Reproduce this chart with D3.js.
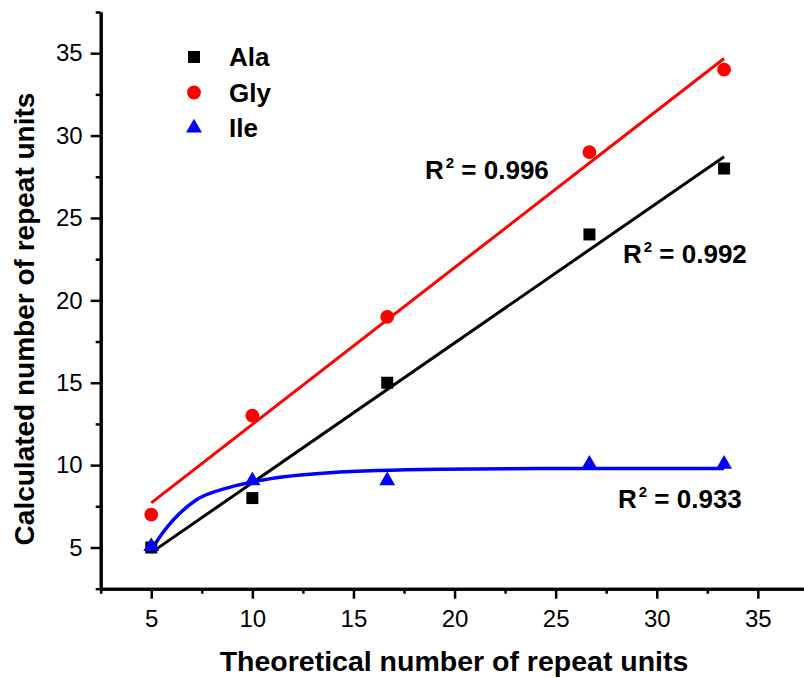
<!DOCTYPE html>
<html>
<head>
<meta charset="utf-8">
<script src="https://cdn.jsdelivr.net/npm/d3@7"></script>
<style>
  body { margin: 0; background: #fff; }
  text { font-family: "Liberation Sans", Arial, sans-serif; fill: #000; }
</style>
</head>
<body>
<div id="chart"></div>
<script>
// Chart size
var svgWidth = 804;
var svgHeight = 678;

// Data
var theoretical = [5, 10, 16.67, 26.67, 33.33];
var alaValues = [5, 8, 15, 24, 28];
var glyValues = [7, 13, 19, 29, 34];
var ileValues = [5, 9, 9, 10, 10];

// Fit lines
var alaFit = [[5, 4.69], [33.33, 28.72]];
var glyFit = [[5, 7.71], [33.33, 34.68]];
var ileFit = [[5, 4.85], [5.56, 5.88], [7.22, 7.88], [8.87, 8.65], [10.52, 9.1],
              [13.82, 9.54], [19.26, 9.75], [25.2, 9.8], [33.33, 9.8]];

var majorTicks = [5, 10, 15, 20, 25, 30, 35];
var minorTicks = [2.5, 7.5, 12.5, 17.5, 22.5, 27.5, 32.5, 37.5];

var legendNames = ["Ala", "Gly", "Ile"];
var rValues = ["0.996", "0.992", "0.933"];

var svg = d3.select("#chart")
  .append("svg")
  .attr("width", svgWidth)
  .attr("height", svgHeight);

// Scales
var xScale = d3.scaleLinear().domain([2.5, 37.5]).range([100.7, 808.4]);
var yScale = d3.scaleLinear().domain([2.5, 37.5]).range([588.7, 12]);

// Fit lines
var line = d3.line().x(d => xScale(d[0])).y(d => yScale(d[1]));
var curve = d3.line().x(d => xScale(d[0])).y(d => yScale(d[1])).curve(d3.curveMonotoneX);

svg.append("path").attr("d", line(glyFit))
  .attr("fill", "none").attr("stroke", "#ff0000").attr("stroke-width", 3);
svg.append("path").attr("d", line(alaFit))
  .attr("fill", "none").attr("stroke", "#000").attr("stroke-width", 3);
svg.append("path").attr("d", curve(ileFit))
  .attr("fill", "none").attr("stroke", "#0000ff").attr("stroke-width", 3.5);

// Markers
var square = d3.symbol().type(d3.symbolSquare).size(144);
var circle = d3.symbol().type(d3.symbolCircle).size(150);
var triangle = d3.symbol().type(d3.symbolTriangle).size(110);

svg.selectAll(".ala")
  .data(theoretical)
  .enter()
  .append("path")
  .attr("d", square)
  .attr("transform", (d, i) => `translate(${xScale(d)}, ${yScale(alaValues[i])})`)
  .attr("fill", "#000");

svg.selectAll(".gly")
  .data(theoretical)
  .enter()
  .append("path")
  .attr("d", circle)
  .attr("transform", (d, i) => `translate(${xScale(d)}, ${yScale(glyValues[i])})`)
  .attr("fill", "#ff0000");

svg.selectAll(".ile")
  .data(theoretical)
  .enter()
  .append("path")
  .attr("d", triangle)
  .attr("transform", (d, i) => `translate(${xScale(d)}, ${yScale(ileValues[i]) - 1})`)
  .attr("fill", "#0000ff");

// Axes
function styleAxis(g) {
  g.selectAll(".domain").attr("stroke", "#000").attr("stroke-width", 3);
  g.selectAll(".tick line").attr("stroke", "#000").attr("stroke-width", 2.5);
  g.selectAll(".tick text").style("font-size", "24px").attr("fill", "#000");
}

svg.append("g")
  .attr("transform", "translate(0, 588.7)")
  .call(d3.axisBottom(xScale).tickValues(minorTicks).tickFormat("").tickSize(5).tickSizeOuter(0))
  .call(styleAxis);
svg.append("g")
  .attr("transform", "translate(0, 588.7)")
  .call(d3.axisBottom(xScale).tickValues(majorTicks).tickSize(10).tickPadding(11).tickSizeOuter(0))
  .call(styleAxis);

svg.append("g")
  .attr("transform", "translate(100.7, 0)")
  .call(d3.axisLeft(yScale).tickValues(minorTicks).tickFormat("").tickSize(5).tickSizeOuter(0))
  .call(styleAxis);
svg.append("g")
  .attr("transform", "translate(100.7, 0)")
  .call(d3.axisLeft(yScale).tickValues(majorTicks).tickSize(10).tickPadding(8).tickSizeOuter(0))
  .call(styleAxis);

// Axis titles
svg.append("text")
  .attr("x", 454)
  .attr("y", 671)
  .attr("text-anchor", "middle")
  .style("font-size", "28.5px")
  .style("font-weight", "bold")
  .text("Theoretical number of repeat units");

svg.append("text")
  .attr("transform", "translate(34, 319) rotate(-90)")
  .attr("text-anchor", "middle")
  .style("font-size", "28px")
  .style("font-weight", "bold")
  .text("Calculated number of repeat units");

// Legend
var legendSymbols = [square, circle, triangle];
var legendColors = ["#000", "#ff0000", "#0000ff"];
legendNames.forEach(function (name, i) {
  var ly = 57 + i * 35.5;
  svg.append("path")
    .attr("d", legendSymbols[i])
    .attr("transform", `translate(194, ${ly})`)
    .attr("fill", legendColors[i]);
  svg.append("text")
    .attr("x", 229)
    .attr("y", ly + 9)
    .style("font-size", "26px")
    .style("font-weight", "bold")
    .text(name);
});

// R squared labels
var rPos = [[425, 179], [623, 263], [618, 508]];
rValues.forEach(function (v, i) {
  var t = svg.append("text")
    .attr("x", rPos[i][0])
    .attr("y", rPos[i][1])
    .style("font-size", "26px")
    .style("font-weight", "bold");
  t.append("tspan").text("R");
  t.append("tspan").attr("dx", 2).attr("dy", -11).style("font-size", "15px").text("2");
  t.append("tspan").attr("dy", 11).text(" = " + v);
});
</script>
</body>
</html>
